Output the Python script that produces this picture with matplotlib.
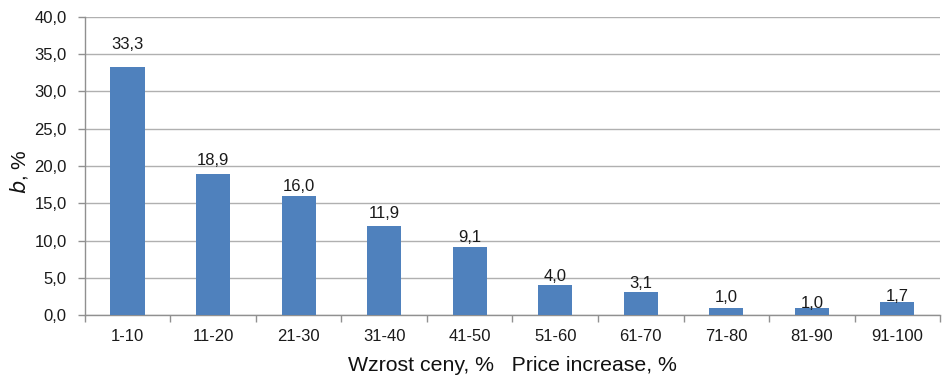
import matplotlib
matplotlib.use("Agg")
import matplotlib.pyplot as plt
from matplotlib.ticker import FixedLocator, FuncFormatter
import numpy as np

categories = ["1-10", "11-20", "21-30", "31-40", "41-50",
              "51-60", "61-70", "71-80", "81-90", "91-100"]
values = [33.3, 18.9, 16.0, 11.9, 9.1, 4.0, 3.1, 1.0, 1.0, 1.7]
y_ticks = [0, 5, 10, 15, 20, 25, 30, 35, 40]

# vertical offsets (points) of value labels above bar tops
label_offsets = [16, 10, 7, 9, 7, 6, 6, 7, 3, 4]

plt.rcParams["font.family"] = ["Liberation Sans", "DejaVu Sans"]

fig = plt.figure(figsize=(9.42, 3.76), dpi=100)
ax = fig.add_axes([0.090, 0.162, 0.908, 0.793])

x = np.arange(len(categories))
bar_color = "#4F81BD"
ax.bar(x, values, width=0.4, color=bar_color, zorder=3)

for xi, v, off in zip(x, values, label_offsets):
    ax.annotate(f"{v:.1f}".replace(".", ","), (xi, v),
                xytext=(0, off), textcoords="offset points",
                ha="center", va="center", fontsize=12, color="#1a1a1a",
                zorder=4)

ax.set_xlim(-0.5, len(categories) - 0.5)
ax.set_ylim(0, 40)
ax.set_yticks(y_ticks)
ax.yaxis.set_major_formatter(FuncFormatter(lambda v, p: f"{v:.1f}".replace(".", ",")))
ax.yaxis.grid(True, color="#b0b0b0", linewidth=1, zorder=0)

ax.set_xticks(x)
ax.set_xticklabels(categories)
ax.xaxis.set_minor_locator(FixedLocator(np.arange(-0.5, len(categories), 1.0)))
ax.tick_params(axis="x", which="major", length=0, pad=10, labelsize=12, labelcolor="#1a1a1a")
ax.tick_params(axis="x", which="minor", length=5, color="#909090", width=1)
ax.tick_params(axis="y", length=5, color="#909090", width=1, labelsize=12,
               labelcolor="#1a1a1a", pad=8)

for side in ("top", "right"):
    ax.spines[side].set_visible(False)
for side in ("left", "bottom"):
    ax.spines[side].set_color("#909090")
    ax.spines[side].set_linewidth(1)

ax.set_xlabel("Wzrost ceny, %   Price increase, %", fontsize=15.3, color="#111111", labelpad=9)
ax.set_ylabel("$\\it{b}$, %", fontsize=15, color="#111111")
ax.yaxis.set_label_coords(-0.064, 0.48)

fig.savefig("out.png", dpi=100)
